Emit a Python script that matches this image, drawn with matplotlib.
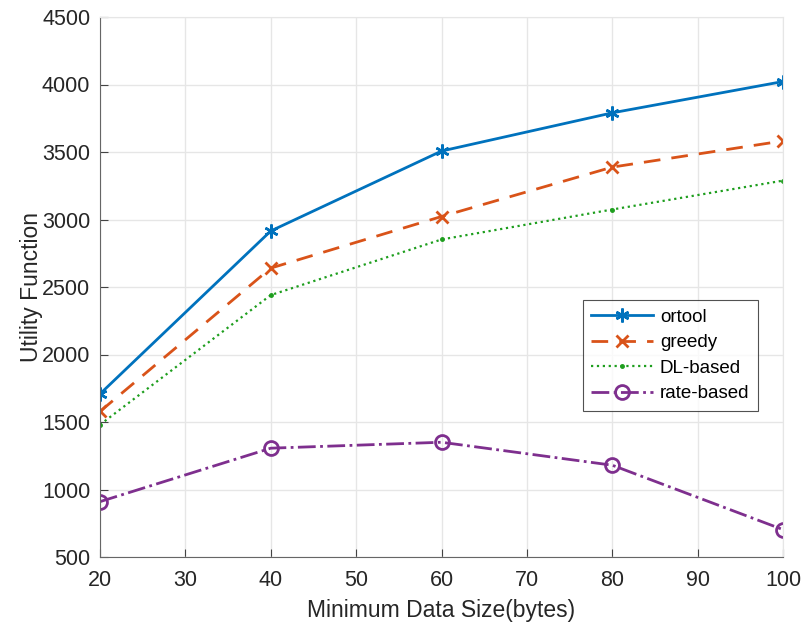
import matplotlib
matplotlib.use("Agg")
import matplotlib.pyplot as plt

plt.rcParams['font.family'] = ['Liberation Sans', 'DejaVu Sans']

data_size = [20, 40, 60, 80, 100]
ortool = [1708, 2915, 3507, 3790, 4022]
greedy = [1578, 2640, 3022, 3388, 3582]
dl_based = [1480, 2440, 2852, 3074, 3288]
rate_based = [910, 1306, 1350, 1180, 703]

fig = plt.figure(figsize=(8.01, 6.24), dpi=100)
ax = fig.add_axes([100 / 801, 1 - 557 / 624, 683 / 801, 540 / 624])

ax.plot(data_size, ortool, '-', color='#0072BD', lw=2, marker=(6, 2, 0),
        ms=10, mew=1.8, label='ortool')
ax.plot(data_size, greedy, '--', color='#D95319', lw=2, marker='x',
        ms=9, mew=2, dashes=(6, 4), label='greedy')
ax.plot(data_size, dl_based, ':', color='#1E9E1E', lw=1.6, marker='.',
        ms=5, label='DL-based')
ax.plot(data_size, rate_based, '-.', color='#7E2F8E', lw=2, marker='o',
        ms=10, mfc='none', mew=2, label='rate-based')

ax.set_xlim(20, 100)
ax.set_ylim(500, 4500)
ax.set_xticks(range(20, 101, 10))
ax.set_yticks(range(500, 4501, 500))
ax.grid(True, color='#e6e6e6', lw=1)
ax.set_axisbelow(True)
for side in ['top', 'right']:
    ax.spines[side].set_color('#e6e6e6')
for side in ['left', 'bottom']:
    ax.spines[side].set_color('#666666')
ax.tick_params(direction='in', length=6, color='#444444', labelsize=15.5,
               labelcolor='#262626', top=False, right=False)
ax.tick_params(axis='y', pad=7)
ax.tick_params(axis='x', pad=9)

ax.set_xlabel('Minimum Data Size(bytes)', fontsize=16.5, color='#262626', labelpad=6)
ax.set_ylabel('Utility Function', fontsize=16.5, color='#262626', labelpad=-1)

leg = ax.legend(loc='upper left', bbox_to_anchor=(0.707, 0.476), borderaxespad=0,
                fontsize=13.5, frameon=True, fancybox=False, edgecolor='#262626',
                handlelength=3.3, handletextpad=0.35, borderpad=0.45,
                labelspacing=0.45)
leg.get_frame().set_linewidth(0.8)

fig.savefig('out.png', dpi=100)
